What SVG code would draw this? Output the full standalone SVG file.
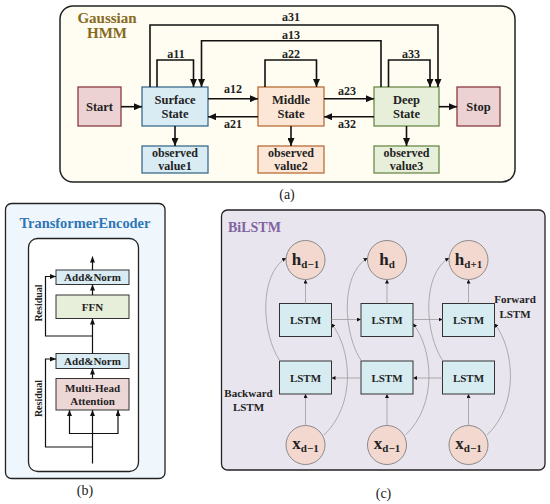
<svg xmlns="http://www.w3.org/2000/svg" width="550" height="504" viewBox="0 0 550 504">
<defs>
<marker id="arr" markerUnits="userSpaceOnUse" markerWidth="8" markerHeight="7" refX="8" refY="3.5" orient="auto"><path d="M0,0 L8,3.5 L0,7 z" fill="#111"/></marker>
<marker id="arrb" markerUnits="userSpaceOnUse" markerWidth="6" markerHeight="5" refX="6" refY="2.5" orient="auto"><path d="M0,0 L6,2.5 L0,5 z" fill="#111"/></marker>
<marker id="arrc" markerUnits="userSpaceOnUse" markerWidth="4" markerHeight="4" refX="4" refY="2" orient="auto"><path d="M0,0 L4,2 L0,4 z" fill="#111"/></marker>
<style>
text{font-family:"Liberation Serif","Times New Roman",serif;font-weight:bold;fill:#222;text-anchor:middle}
.st{font-size:12.5px}
.ob{font-size:12px}
.lb{font-size:12px}
.ca{font-size:14px;font-weight:normal}
.bt{font-size:11px}
.ct{font-size:11px}
.hx{font-size:17px}
.sub{font-size:11px}
.la{stroke:#111;stroke-width:1.6;fill:none;marker-end:url(#arr)}
.lbp{stroke:#111;stroke-width:1.2;fill:none;marker-end:url(#arrb)}
.lc{stroke:#9a9a9a;stroke-width:0.8;fill:none;marker-end:url(#arrc)}
.blue{fill:#d9ebf3;stroke:#3b6c8c;stroke-width:1.3}
.peach{fill:#fce6d6;stroke:#b86f38;stroke-width:1.3}
.green{fill:#e7efda;stroke:#6b8a4a;stroke-width:1.3}
.pink{fill:#ecd2d3;stroke:#8b3b3f;stroke-width:1.3}
.lstm{fill:#d6ecf1;stroke:#333;stroke-width:1}
.circ{fill:#f3d8cf;stroke:#8a8a8a;stroke-width:1}
</style>
</defs>

<!-- Panel (a) -->
<g id="panel-a">
<rect x="60" y="6" width="455" height="176" rx="13" fill="#fffcf2" stroke="#222" stroke-width="1.5"/>
<text x="107" y="23" style="font-size:15px;fill:#866a1e">Gaussian</text>
<text x="107" y="38" style="font-size:15px;fill:#866a1e">HMM</text>
</g>
<g id="start"><rect class="pink" x="78" y="87" width="43" height="39"/><text class="st" x="99.5" y="111">Start</text></g>
<g id="surface"><rect class="blue" x="142" y="87" width="66" height="39"/><text class="st" x="175" y="103.5">Surface</text><text class="st" x="175" y="117.5">State</text></g>
<g id="middle"><rect class="peach" x="258" y="87" width="66" height="39"/><text class="st" x="291" y="103.5">Middle</text><text class="st" x="291" y="117.5">State</text></g>
<g id="deep"><rect class="green" x="374" y="87" width="65" height="39"/><text class="st" x="406.5" y="103.5">Deep</text><text class="st" x="406.5" y="117.5">State</text></g>
<g id="stop"><rect class="pink" x="457" y="87" width="43" height="39"/><text class="st" x="478.5" y="111">Stop</text></g>
<g id="obs1"><rect class="blue" x="142" y="146" width="66" height="27"/><text class="ob" x="175" y="157">observed</text><text class="ob" x="175" y="170">value1</text></g>
<g id="obs2"><rect class="peach" x="258" y="146" width="66" height="27"/><text class="ob" x="291" y="157">observed</text><text class="ob" x="291" y="170">value2</text></g>
<g id="obs3"><rect class="green" x="374" y="146" width="65" height="27"/><text class="ob" x="406.5" y="157">observed</text><text class="ob" x="406.5" y="170">value3</text></g>

<g id="connectors-a">
<line class="la" x1="121" y1="106.7" x2="142" y2="106.7"/>
<line class="la" x1="208" y1="98.7" x2="258" y2="98.7"/>
<line class="la" x1="258" y1="116.7" x2="208" y2="116.7"/>
<line class="la" x1="324" y1="98.7" x2="374" y2="98.7"/>
<line class="la" x1="374" y1="116.7" x2="324" y2="116.7"/>
<line class="la" x1="439" y1="106.7" x2="457" y2="106.7"/>
<line class="la" x1="175" y1="126" x2="175" y2="146"/>
<line class="la" x1="291" y1="126" x2="291" y2="146"/>
<line class="la" x1="406.5" y1="126" x2="406.5" y2="146"/>
<polyline class="la" points="157,87 157,60 193.5,60 193.5,87"/>
<polyline class="la" points="265,87 265,60 316.5,60 316.5,87"/>
<polyline class="la" points="388.5,87 388.5,60 430,60 430,87"/>
<polyline class="la" points="381,87 381,40.7 201.5,40.7 201.5,87"/>
<polyline class="la" points="150,87 150,25 438,25 438,87"/>
<text class="lb" x="291" y="21">a31</text>
<text class="lb" x="291" y="38.5">a13</text>
<text class="lb" x="176" y="58">a11</text>
<text class="lb" x="291" y="58">a22</text>
<text class="lb" x="411" y="58">a33</text>
<text class="lb" x="233" y="93">a12</text>
<text class="lb" x="233" y="127.5">a21</text>
<text class="lb" x="347" y="94.5">a23</text>
<text class="lb" x="347" y="127.5">a32</text>
</g>
<text class="ca" x="287" y="199">(a)</text>

<!-- Panel (b) -->
<g id="panel-b">
<rect x="5.5" y="203.5" width="159.5" height="275" rx="6" fill="#eff7fc" stroke="#222" stroke-width="1.3"/>
<text x="85" y="228" style="font-size:14.4px;fill:#2e75b6">TransformerEncoder</text>
<rect x="28.5" y="238.5" width="110" height="233" rx="9" fill="#fff" stroke="#222" stroke-width="1.3"/>
</g>
<g id="addnorm2"><rect class="blue" x="56" y="270" width="73" height="14.5" style="stroke:#333;stroke-width:1"/><text class="bt" x="92.5" y="281.2">Add&amp;Norm</text></g>
<g id="ffn"><rect class="green" x="56" y="295" width="73" height="23.5" style="stroke:#333;stroke-width:1"/><text class="bt" x="92.5" y="310.5">FFN</text></g>
<g id="addnorm1"><rect class="blue" x="56" y="353.5" width="73" height="15" style="stroke:#333;stroke-width:1"/><text class="bt" x="92.5" y="365">Add&amp;Norm</text></g>
<g id="mha"><rect x="56" y="378.5" width="73" height="31.5" fill="#ecd6d6" stroke="#333" stroke-width="1"/><text class="bt" x="92.5" y="391.5">Multi-Head</text><text class="bt" x="92.5" y="404.5">Attention</text></g>
<g id="connectors-b">
<line class="lbp" x1="92.5" y1="463.5" x2="92.5" y2="410"/>
<polyline class="lbp" points="92.5,433.5 69.5,433.5 69.5,410"/>
<polyline class="lbp" points="92.5,433.5 118,433.5 118,410"/>
<polyline class="lbp" points="92.5,447 45.5,447 45.5,359 56,359"/>
<line class="lbp" x1="92.5" y1="378.5" x2="92.5" y2="368.5"/>
<line class="lbp" x1="92.5" y1="353.5" x2="92.5" y2="318.5"/>
<polyline class="lbp" points="92.5,336 45.5,336 45.5,276.5 56,276.5"/>
<line class="lbp" x1="92.5" y1="295" x2="92.5" y2="284.5"/>
<line class="lbp" x1="92.5" y1="270" x2="92.5" y2="256.5"/>
<text transform="translate(41.5,303) rotate(-90)" style="font-size:10px">Residual</text>
<text transform="translate(41.5,398.5) rotate(-90)" style="font-size:10px">Residual</text>
</g>
<text class="ca" x="85" y="494.5">(b)</text>

<!-- Panel (c) -->
<g id="panel-c">
<rect x="221.5" y="210" width="323.5" height="260" rx="6" fill="#e9e5ef" stroke="#222" stroke-width="1.3"/>
<text x="228" y="232" style="font-size:14px;fill:#8064a2;text-anchor:start">BiLSTM</text>
<text class="ct" x="515" y="303">Forward</text>
<text class="ct" x="515" y="317.5">LSTM</text>
<text class="ct" x="248.5" y="396.5">Backward</text>
<text class="ct" x="248.5" y="411">LSTM</text>
</g>
<g id="h1"><circle class="circ" cx="305.5" cy="260" r="19.5"/><text class="hx" x="305.5" y="265">h<tspan class="sub" dy="2.5">d−1</tspan></text></g>
<g id="h2"><circle class="circ" cx="387" cy="260" r="19.5"/><text class="hx" x="387" y="265">h<tspan class="sub" dy="2.5">d</tspan></text></g>
<g id="h3"><circle class="circ" cx="468.5" cy="260" r="19.5"/><text class="hx" x="468.5" y="265">h<tspan class="sub" dy="2.5">d+1</tspan></text></g>
<g id="f1"><rect class="lstm" x="279.5" y="303.5" width="52" height="33"/><text class="ct" x="305.5" y="324">LSTM</text></g>
<g id="f2"><rect class="lstm" x="361" y="303.5" width="52" height="33"/><text class="ct" x="387" y="324">LSTM</text></g>
<g id="f3"><rect class="lstm" x="442.5" y="303.5" width="52" height="33"/><text class="ct" x="468.5" y="324">LSTM</text></g>
<g id="b1"><rect class="lstm" x="279.5" y="361" width="52" height="33"/><text class="ct" x="305.5" y="381.5">LSTM</text></g>
<g id="b2"><rect class="lstm" x="361" y="361" width="52" height="33"/><text class="ct" x="387" y="381.5">LSTM</text></g>
<g id="b3"><rect class="lstm" x="442.5" y="361" width="52" height="33"/><text class="ct" x="468.5" y="381.5">LSTM</text></g>
<g id="x1"><circle class="circ" cx="305.5" cy="445" r="19.5"/><text class="hx" x="305.5" y="449">x<tspan class="sub" dy="3">d−1</tspan></text></g>
<g id="x2"><circle class="circ" cx="387" cy="445" r="19.5"/><text class="hx" x="387" y="449">x<tspan class="sub" dy="3">d−1</tspan></text></g>
<g id="x3"><circle class="circ" cx="468.5" cy="445" r="19.5"/><text class="hx" x="468.5" y="449">x<tspan class="sub" dy="3">d−1</tspan></text></g>
<g id="connectors-c">
<line class="lc" x1="305.5" y1="303.5" x2="305.5" y2="279.5"/>
<line class="lc" x1="387" y1="303.5" x2="387" y2="279.5"/>
<line class="lc" x1="468.5" y1="303.5" x2="468.5" y2="279.5"/>
<line class="lc" x1="305.5" y1="425.5" x2="305.5" y2="394"/>
<line class="lc" x1="387" y1="425.5" x2="387" y2="394"/>
<line class="lc" x1="468.5" y1="425.5" x2="468.5" y2="394"/>
<line class="lc" x1="331.5" y1="319.5" x2="361" y2="319.5"/>
<line class="lc" x1="413" y1="319.5" x2="442.5" y2="319.5"/>
<line class="lc" x1="442.5" y1="378" x2="413" y2="378"/>
<line class="lc" x1="361" y1="378" x2="331.5" y2="378"/>
<path class="lc" d="M280,361 C262,335 258,275 286,258"/>
<path class="lc" d="M361.5,361 C343.5,335 339.5,275 367.5,258"/>
<path class="lc" d="M443,361 C425,335 421,275 449,258"/>
<path class="lc" d="M324,435 C356,405 352,350 331.5,323.5"/>
<path class="lc" d="M405.5,435 C437.5,405 433.5,350 413,323.5"/>
<path class="lc" d="M487,435 C519,405 515,350 494.5,323.5"/>
</g>
<text class="ca" x="383.5" y="497.5">(c)</text>
</svg>
